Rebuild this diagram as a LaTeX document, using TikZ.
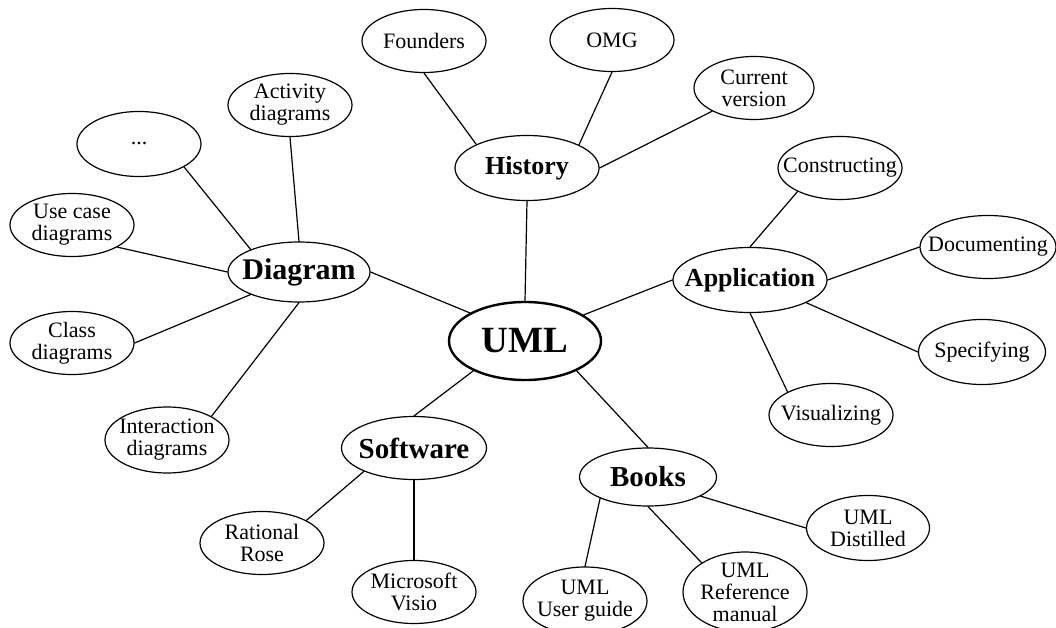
\documentclass[tikz,border=0pt]{standalone}
\usepackage{fontspec}
\setmainfont{Liberation Serif}
\usetikzlibrary{shapes.geometric}
\begin{document}
\begin{tikzpicture}[x=1pt,y=-1pt,line cap=round,
    leaf/.style={ellipse,draw,line width=1.2pt,inner sep=-30pt,align=center,
        minimum width=124pt,minimum height=63pt,font=\fontsize{22}{22}\selectfont},
    topic/.style={ellipse,draw,line width=1.2pt,inner sep=-30pt,
        minimum width=144pt,minimum height=63pt,font=\bfseries\fontsize{#1}{#1}\selectfont},
    link/.style={line width=1.2pt}]
    \useasboundingbox (0,0) rectangle (1056,628);

    % the centre
    \node[topic=37,minimum width=152pt,minimum height=78pt,line width=2.4pt] (uml) at (525,341) {UML};

    % history
    \node[topic=26,minimum height=65pt] (history) at (527,168) {History};
    \node[leaf] (founders) at (424,41) {Founders};
    \node[leaf] (omg) at (612,40) {OMG};
    \node[leaf,minimum width=120pt] (current) at (754,88) {Current\\version};

    % diagram
    \node[topic=30,minimum width=142pt,minimum height=60pt] (diagram) at (299,272) {Diagram};
    \node[leaf] (activity) at (290,105) {Activity\\diagrams};
    \node[leaf,minimum height=65pt] (etc) at (139,144) {...};
    \node[leaf] (usecase) at (72,225) {Use case\\diagrams};
    \node[leaf] (class) at (72,343) {Class\\diagrams};
    \node[leaf,minimum height=66pt] (interaction) at (167,440) {Interaction\\diagrams};

    % application
    \node[topic=26,minimum width=154pt,minimum height=65pt] (application) at (750,280) {Application};
    \node[leaf] (constructing) at (840,168) {Constructing};
    \node[leaf,minimum width=136pt] (documenting) at (988,247) {Documenting};
    \node[leaf,minimum width=127pt,minimum height=65pt] (specifying) at (982,352) {Specifying};
    \node[leaf] (visualizing) at (831,415) {Visualizing};

    % software
    \node[topic=29,minimum width=145pt] (software) at (414,448) {Software};
    \node[leaf] (rational) at (262,543) {Rational\\Rose};
    \node[leaf] (visio) at (414,592) {Microsoft\\Visio};

    % books
    \node[topic=29,minimum width=137pt,minimum height=58pt] (books) at (648,477) {Books};
    \node[leaf,minimum height=68pt] (userguide) at (585,601) {UML\\User guide};
    \node[leaf,minimum height=80pt] (reference) at (745,592) {UML\\Reference\\manual};
    \node[leaf,minimum width=123pt,minimum height=65pt] (distilled) at (868,528) {UML\\Distilled};

    % spokes of the centre
    \draw[link] (history.south) -- (uml.north);
    \draw[link] (diagram.east) -- (uml.153);
    \draw[link] (uml.24) -- (application.west);
    \draw[link] (uml.210) -- (software.north);
    \draw[link] (uml.330) -- (books.north);

    % history links
    \draw[link] (founders.south) -- (history.155);
    \draw[link] (omg.south) -- (history.24);
    \draw[link] (current.209) -- (history.east);

    % diagram links
    \draw[link] (activity.south) -- (diagram.north);
    \draw[link] (etc.333) -- (diagram.155);
    \draw[link] (usecase.334) -- (diagram.west);
    \draw[link] (class.east) -- (diagram.205);
    \draw[link] (interaction.28) -- (diagram.south);

    % application links
    \draw[link] (constructing.209) -- (application.north);
    \draw[link] (documenting.west) -- (application.east);
    \draw[link] (specifying.west) -- (application.338);
    \draw[link] (visualizing.152) -- (application.south);

    % software links
    \draw[link] (software.205) -- (rational.27);
    \draw[link] (software.south) -- (visio.north);

    % books links
    \draw[link] (books.204) -- (userguide.north);
    \draw[link] (books.south) -- (reference.146);
    \draw[link] (books.340) -- (distilled.west);
\end{tikzpicture}
\end{document}
